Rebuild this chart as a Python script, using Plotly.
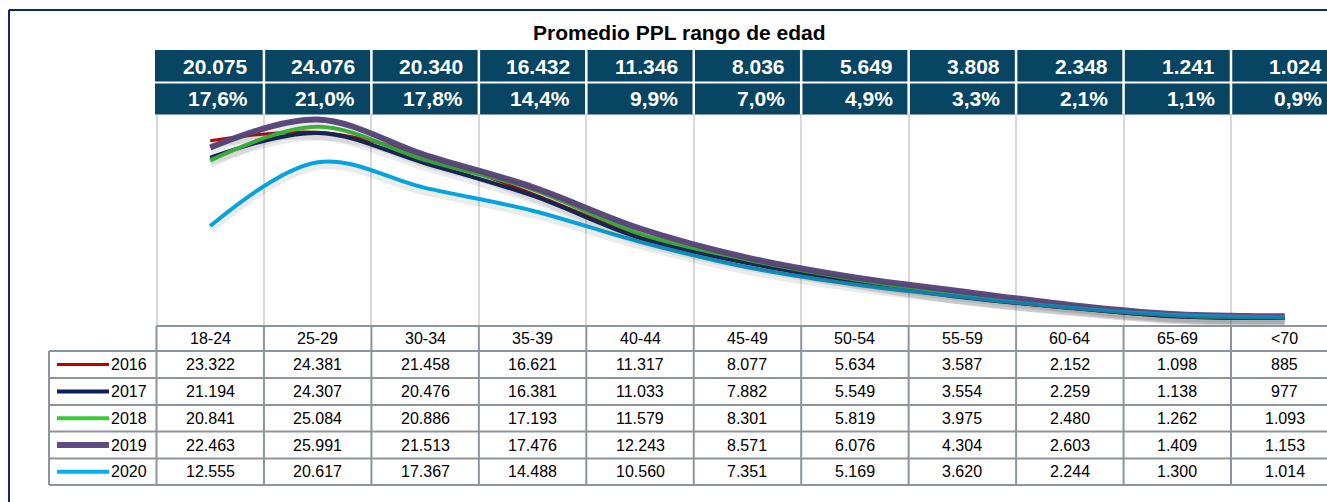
import plotly.graph_objects as go

# Data
age_groups = ["18-24", "25-29", "30-34", "35-39", "40-44", "45-49",
              "50-54", "55-59", "60-64", "65-69", "<70"]
avg_values = [20075, 24076, 20340, 16432, 11346, 8036, 5649, 3808, 2348, 1241, 1024]
avg_share = [17.6, 21.0, 17.8, 14.4, 9.9, 7.0, 4.9, 3.3, 2.1, 1.1, 0.9]

years = ["2016", "2017", "2018", "2019", "2020"]
v2016 = [23322, 24381, 21458, 16621, 11317, 8077, 5634, 3587, 2152, 1098, 885]
v2017 = [21194, 24307, 20476, 16381, 11033, 7882, 5549, 3554, 2259, 1138, 977]
v2018 = [20841, 25084, 20886, 17193, 11579, 8301, 5819, 3975, 2480, 1262, 1093]
v2019 = [22463, 25991, 21513, 17476, 12243, 8571, 6076, 4304, 2603, 1409, 1153]
v2020 = [12555, 20617, 17367, 14488, 10560, 7351, 5169, 3620, 2244, 1300, 1014]
series = [v2016, v2017, v2018, v2019, v2020]

colors = ["#C00000", "#0B1F5E", "#3CC83C", "#5F4B80", "#00B0F0"]
widths = [3, 4, 4, 6, 4]

# Layout geometry (pixels)
W, H = 1327, 502
COL0, CW = 156.5, 107.45
PLOT_TOP, PLOT_BOT = 114.5, 325.5
ROWS = [326, 351, 378, 405, 431.5, 458.5, 485]
FONT = "Arial, Liberation Sans, sans-serif"
GRID = "#8D959C"
HEAD = "#074562"


def px(x):
    return x / W


def py(y):
    return 1 - y / H


def col_left(i):
    return COL0 + CW * i


def fmt_int(v):
    return f"{v:,}".replace(",", ".")


def fmt_pct(v):
    return f"{v:.1f}%".replace(".", ",")


def label(x, y, text, size, color="black", xanchor="center"):
    return dict(x=x, y=y, xref="paper", yref="paper", xanchor=xanchor, yanchor="middle",
                text=text, showarrow=False, font=dict(family=FONT, size=size, color=color))


x0 = -(COL0 + CW / 2) / CW
x_range = [x0, x0 + W / CW]
y_max = 26635
shift = 380  # shadow offset in data units (~3px)

fig = go.Figure()
xs = list(range(len(age_groups)))

# soft shadows under the lines
for vals in series:
    fig.add_trace(go.Scatter(x=xs, y=vals, mode="lines", yaxis="y2",
                             line=dict(color="rgba(60,60,60,0.10)", width=9, shape="spline"),
                             hoverinfo="skip", showlegend=False))

for yr, vals, c, w in zip(years, series, colors, widths):
    fig.add_trace(go.Scatter(x=xs, y=vals, mode="lines", name=yr,
                             line=dict(color=c, width=w, shape="spline"),
                             showlegend=False))

shapes = []
ann = []

# outer frame
shapes.append(dict(type="line", xref="paper", yref="paper", x0=px(9), x1=px(9), y0=py(10), y1=py(H + 5),
                   line=dict(color="#14237A", width=2)))
shapes.append(dict(type="line", xref="paper", yref="paper", x0=px(9), x1=1, y0=py(10), y1=py(10),
                   line=dict(color="#14237A", width=2)))

# header block
shapes.append(dict(type="rect", xref="paper", yref="paper", x0=px(155), x1=1, y0=py(114.5), y1=py(50),
                   fillcolor=HEAD, line=dict(width=0), layer="below"))
shapes.append(dict(type="line", xref="paper", yref="paper", x0=px(155), x1=1, y0=py(82.5), y1=py(82.5),
                   line=dict(color="white", width=2)))
for i in range(1, len(age_groups) + 1):
    shapes.append(dict(type="line", xref="paper", yref="paper", x0=px(col_left(i)), x1=px(col_left(i)),
                       y0=py(50), y1=py(114.5), line=dict(color="white", width=2.5)))

for i, (v, p) in enumerate(zip(avg_values, avg_share)):
    right = px(col_left(i + 1) - 14)
    ann.append(label(right, py(66.5), f"<b>{fmt_int(v)}</b>", 21, "white", "right"))
    ann.append(label(right, py(98.5), f"<b>{fmt_pct(p)}</b>", 21, "white", "right"))

# data table grid
shapes.append(dict(type="line", xref="paper", yref="paper", x0=px(COL0), x1=1, y0=py(ROWS[0]), y1=py(ROWS[0]),
                   line=dict(color=GRID, width=2)))
for r in ROWS[1:]:
    shapes.append(dict(type="line", xref="paper", yref="paper", x0=px(49), x1=1, y0=py(r), y1=py(r),
                       line=dict(color=GRID, width=2)))
shapes.append(dict(type="line", xref="paper", yref="paper", x0=px(49), x1=px(49), y0=py(ROWS[1]), y1=py(ROWS[-1]),
                   line=dict(color=GRID, width=2)))
for i in range(len(age_groups) + 1):
    shapes.append(dict(type="line", xref="paper", yref="paper", x0=px(col_left(i)), x1=px(col_left(i)),
                       y0=py(ROWS[0]), y1=py(ROWS[-1]), line=dict(color=GRID, width=2)))

# category row
for i, g in enumerate(age_groups):
    ann.append(label(px(col_left(i) + CW / 2), py((ROWS[0] + ROWS[1]) / 2), g, 16))

# series rows with legend keys
for k, (yr, vals, c, w) in enumerate(zip(years, series, colors, widths)):
    yc = py((ROWS[k + 1] + ROWS[k + 2]) / 2)
    shapes.append(dict(type="line", xref="paper", yref="paper", x0=px(57), x1=px(109), y0=yc, y1=yc,
                       line=dict(color=c, width=w)))
    ann.append(label(px(149), yc, yr, 16, xanchor="right"))
    for i, v in enumerate(vals):
        ann.append(label(px(col_left(i) + CW / 2), yc, fmt_int(v), 16))

# title
ann.append(label(px(679), py(33), "<b>Promedio PPL rango de edad</b>", 21))

fig.update_layout(
    width=W, height=H, autosize=False,
    margin=dict(l=0, r=0, t=0, b=0),
    paper_bgcolor="white", plot_bgcolor="white",
    xaxis=dict(range=x_range, domain=[0, 1], tickvals=[i - 0.5 for i in range(len(age_groups) + 1)],
               showticklabels=False, showgrid=True, gridcolor="#D9D9D9", gridwidth=2,
               zeroline=False, showline=False, fixedrange=True),
    yaxis=dict(range=[0, y_max], domain=[py(PLOT_BOT), py(PLOT_TOP)], showgrid=False,
               showticklabels=False, zeroline=False, fixedrange=True),
    yaxis2=dict(range=[shift, y_max + shift], domain=[py(PLOT_BOT), py(PLOT_TOP)], overlaying="y",
                showgrid=False, showticklabels=False, zeroline=False, visible=False),
    shapes=shapes,
    annotations=ann,
    showlegend=False,
)

# drop the browser's default body margin so the figure sits at the window origin
fig.write_html("out.html", config={"displayModeBar": False},
               post_script="document.body.style.margin='0';")
